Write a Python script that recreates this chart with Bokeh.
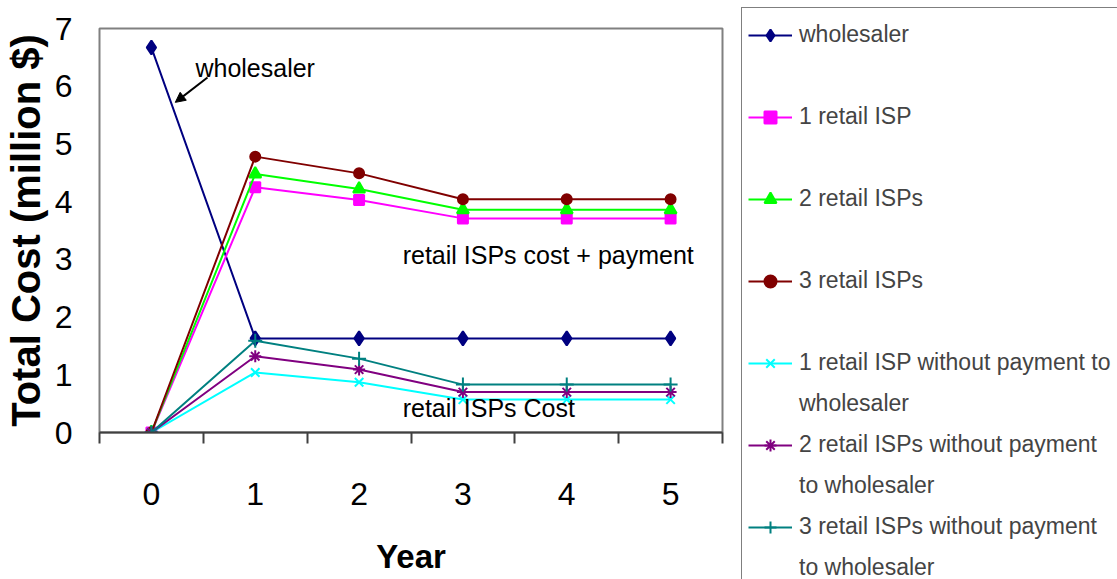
from bokeh.plotting import figure
from bokeh.layouts import row, column
from bokeh.models import (Range1d, FixedTicker, Legend, LegendItem, Label, Arrow,
                          NormalHead, ColumnDataSource)
from bokeh.embed import file_html
from bokeh.resources import INLINE

years = [0, 1, 2, 3, 4, 5]
wholesaler = [6.67, 1.63, 1.63, 1.63, 1.63, 1.63]
retail1 = [0.0, 4.25, 4.03, 3.71, 3.71, 3.71]
retail2 = [0.0, 4.48, 4.22, 3.86, 3.86, 3.86]
retail3 = [0.0, 4.78, 4.49, 4.04, 4.04, 4.04]
retail1_nopay = [0.0, 1.04, 0.87, 0.57, 0.57, 0.57]
retail2_nopay = [0.0, 1.32, 1.09, 0.70, 0.70, 0.70]
retail3_nopay = [0.0, 1.59, 1.28, 0.83, 0.83, 0.83]
y_ticks = [0, 1, 2, 3, 4, 5, 6, 7]

# (legend first line, legend second line, values, colour, marker, size)
series = [
    ("wholesaler", None, wholesaler, "#000080", "diamond", 14),
    ("1 retail ISP", None, retail1, "#FF00FF", "square", 10),
    ("2 retail ISPs", None, retail2, "#00FF00", "triangle", 12),
    ("3 retail ISPs", None, retail3, "#800000", "circle", 10),
    ("1 retail ISP without payment to", "wholesaler", retail1_nopay, "#00FFFF", "x", 12),
    ("2 retail ISPs without payment", "to wholesaler", retail2_nopay, "#800080", "asterisk", 12),
    ("3 retail ISPs without payment", "to wholesaler", retail3_nopay, "#008080", "cross", 14),
]

REG = "Liberation Sans, Arial, sans-serif"

p = figure(width=734, height=579, output_backend="svg", toolbar_location=None,
           x_range=Range1d(-0.5, 5.5), y_range=Range1d(0, 7),
           min_border_left=99, min_border_top=28, min_border_right=12, min_border_bottom=147)
p.background_fill_color = "white"
p.border_fill_color = "white"
p.outline_line_color = "#808080"
p.outline_line_width = 2
p.xgrid.grid_line_color = None
p.ygrid.grid_line_color = None

# legend figure: same sources, view range placed away from the data
pl = figure(width=383, height=579, output_backend="svg", toolbar_location=None,
            x_range=Range1d(100, 101), y_range=Range1d(100, 101),
            x_axis_location=None, y_axis_location=None,
            min_border_left=0, min_border_right=0, min_border_top=0, min_border_bottom=0)
pl.outline_line_color = None
pl.xgrid.grid_line_color = None
pl.ygrid.grid_line_color = None

items = []
for first, second, ys, color, marker, size in series:
    src = ColumnDataSource(dict(x=years, y=ys))
    p.line("x", "y", source=src, line_color=color, line_width=2)
    p.scatter("x", "y", source=src, marker=marker, size=size,
              fill_color=color, line_color=color, line_width=2)
    l1 = pl.line("x", "y", source=src, line_color=color, line_width=2)
    l2 = pl.scatter("x", "y", source=src, marker=marker, size=size,
                    fill_color=color, line_color=color, line_width=2)
    blank = pl.line("x", "y", source=src, line_alpha=0)
    items.append(LegendItem(label=first, renderers=[l1, l2]))
    items.append(LegendItem(label=second if second else " ", renderers=[blank]))

# axes
xa = p.xaxis[0]
xa.ticker = FixedTicker(ticks=years, minor_ticks=[-0.5, 0.5, 1.5, 2.5, 3.5, 4.5, 5.5])
xa.major_tick_line_color = None
xa.major_tick_out = 0
xa.major_tick_in = 0
xa.minor_tick_out = 11
xa.minor_tick_in = 0
xa.minor_tick_line_color = "#404040"
xa.minor_tick_line_width = 2
xa.axis_line_color = "#404040"
xa.axis_line_width = 2
xa.major_label_standoff = 39
xa.major_label_text_font = REG
xa.major_label_text_font_size = "32px"
xa.major_label_text_color = "black"
xa.axis_label = "Year"
xa.axis_label_text_font = REG
xa.axis_label_text_font_style = "bold"
xa.axis_label_text_font_size = "33px"
xa.axis_label_text_color = "black"
xa.axis_label_standoff = 30

ya = p.yaxis[0]
ya.ticker = FixedTicker(ticks=y_ticks)
ya.major_tick_line_color = None
ya.minor_tick_line_color = None
ya.major_tick_out = 0
ya.major_tick_in = 0
ya.axis_line_color = None
ya.major_label_standoff = 27
ya.major_label_text_font = REG
ya.major_label_text_font_size = "32px"
ya.major_label_text_color = "black"
ya.axis_label = "Total Cost (million $)"
ya.axis_label_text_font = REG
ya.axis_label_text_font_style = "bold"
ya.axis_label_text_font_size = "40px"
ya.axis_label_text_color = "black"
ya.axis_label_standoff = 4

# annotations
p.add_layout(Label(x=0.424, y=6.31, text="wholesaler", text_font=REG,
                   text_font_size="25px", text_baseline="middle", text_color="black"))
p.add_layout(Label(x=2.42, y=3.07, text="retail ISPs cost + payment", text_font=REG,
                   text_font_size="25px", text_baseline="middle", text_color="black"))
p.add_layout(Label(x=2.42, y=0.42, text="retail ISPs Cost", text_font=REG,
                   text_font_size="25px", text_baseline="middle", text_color="black"))
p.add_layout(Arrow(end=NormalHead(size=10, fill_color="black", line_color="black"),
                   x_start=0.54, y_start=6.15, x_end=0.23, y_end=5.72,
                   line_color="black", line_width=2))

legend = Legend(items=items, location="top_left", margin=7, padding=6,
                glyph_width=44, glyph_height=30, label_standoff=7,
                label_text_font=REG, label_text_font_size="23px",
                label_height=41, spacing=0,
                border_line_color="black", border_line_width=1,
                background_fill_color="white", background_fill_alpha=1.0)
pl.add_layout(legend)

layout = row(p, column(pl))
open("out.html", "w").write(file_html(layout, INLINE))
